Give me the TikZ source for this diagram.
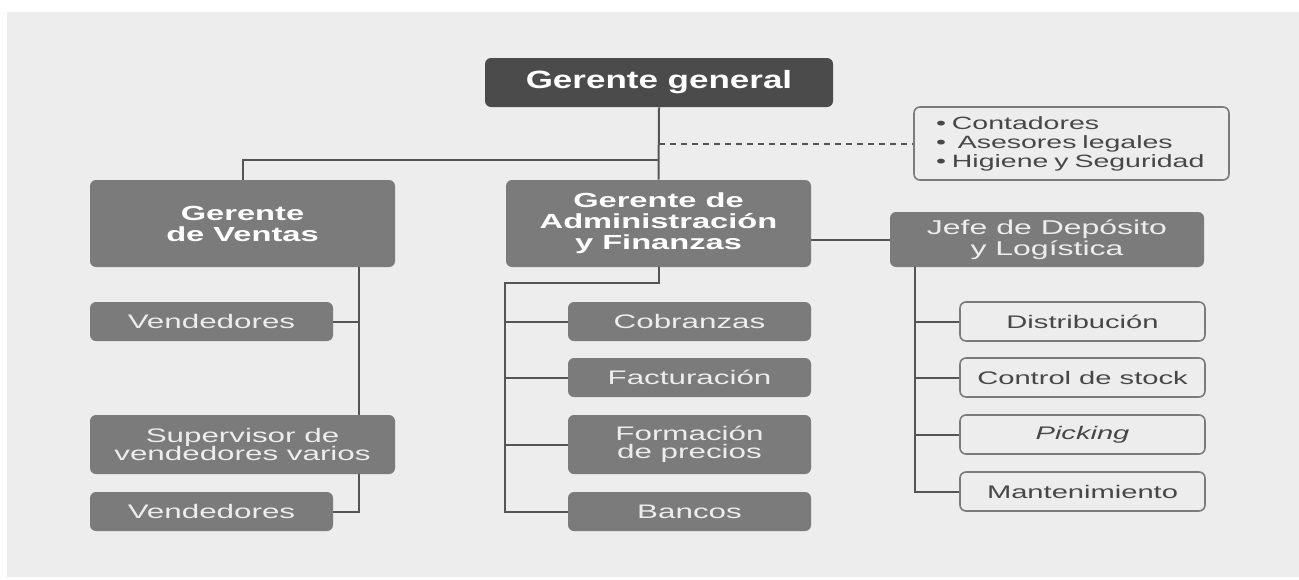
\documentclass[tikz,border=0pt]{standalone}
\usepackage{fontspec}
\setmainfont{Liberation Sans}[FakeStretch=1.6]
\newfontfamily\topfont{Liberation Sans}[FakeStretch=1.4]
\usetikzlibrary{calc}
\definecolor{panel}{HTML}{EDEDED}
\definecolor{boxdark}{HTML}{4B4B4B}
\definecolor{boxmid}{HTML}{7B7B7B}
\definecolor{linegray}{HTML}{555555}
\definecolor{textgray}{HTML}{474747}
\tikzset{
  topbox/.style={fill=boxdark, rounded corners=3pt, text=white, inner sep=0pt,
    font=\topfont\bfseries\fontsize{12.5}{13}\selectfont, minimum width=174pt, minimum height=24.5pt},
  headbox/.style={fill=boxmid, rounded corners=3pt, text=white, inner sep=0pt, align=center,
    font=\bfseries\fontsize{10.2}{10.5}\selectfont},
  subbox/.style={fill=boxmid, rounded corners=3pt, text=panel, inner sep=0pt, align=center,
    font=\fontsize{9.8}{9.3}\selectfont},
  linebox/.style={draw=boxmid, line width=0.8pt, fill=panel, rounded corners=3pt, text=textgray,
    inner sep=0pt, align=center, font=\fontsize{9.1}{9.5}\selectfont,
    minimum width=122.5pt, minimum height=19.5pt},
  link/.style={draw=linegray, line width=1pt},
}

\begin{document}
\begin{tikzpicture}[x=0.5pt, y=-0.5pt]
	%%%%% START %%%%%
	
	\useasboundingbox (0, 0) rectangle (1299, 579);
	\fill[white] (0, 0) rectangle (1299, 579);
	\fill[black!7] (7, 12) rectangle (10, 577);
	\fill[panel] (10, 12) rectangle (1299, 577);
	
	\node[topbox] (gg) at (659, 82.5) {Gerente general};
	
	\node[linebox, align=left, text width=135.5pt, inner xsep=11pt, minimum height=36.5pt,
	  font=\fontsize{8.9}{9.5}\selectfont] (notas) at (1071.5, 143.5)
	  {• Contadores\\•\ \ Asesores legales\\• Higiene y Seguridad};
	
	\node[headbox, minimum width=152.5pt, minimum height=43.5pt] (ventas) at (242.5, 223.5) {Gerente\\de Ventas};
	\node[headbox, minimum width=152.5pt, minimum height=43.5pt] (admin) at (658.5, 223.5) {Gerente de\\Administración\\y Finanzas};
	\node[subbox, minimum width=157pt, minimum height=27.5pt, font=\fontsize{10}{10.5}\selectfont] (jefe) at (1047, 239.5) {Jefe de Depósito\\y Logística};
	
	\node[subbox, minimum width=121.5pt, minimum height=19.5pt] (vend1) at (211.5, 321.5) {Vendedores};
	\node[subbox, minimum width=152.5pt, minimum height=29.5pt] (superv) at (242.5, 444.5) {Supervisor de\\vendedores varios};
	\node[subbox, minimum width=121.5pt, minimum height=19.5pt] (vend2) at (211.5, 511.5) {Vendedores};
	
	\node[subbox, minimum width=121.5pt, minimum height=19.5pt] (cobr) at (689.5, 321.5) {Cobranzas};
	\node[subbox, minimum width=121.5pt, minimum height=19.5pt] (fact) at (689.5, 377.5) {Facturación};
	\node[subbox, minimum width=121.5pt, minimum height=29.5pt] (form) at (689.5, 444.5) {Formación\\de precios};
	\node[subbox, minimum width=121.5pt, minimum height=19.5pt] (bancos) at (689.5, 511.5) {Bancos};
	
	\node[linebox] (dist) at (1082.5, 321.5) {Distribución};
	\node[linebox] (stock) at (1082.5, 377.5) {Control de stock};
	\node[linebox] (pick) at (1082.5, 434.5) {\itshape Picking};
	\node[linebox] (mant) at (1082.5, 491.5) {Mantenimiento};
	
	% top level
	\coordinate (hub) at (659, 160);
	\draw[link] (gg.south) -- (admin.north);
	\draw[link] (hub) -| (ventas.north);
	\draw[link, dash pattern=on 3pt off 2.5pt] (gg.south |- notas.west) -- (notas.west);
	
	% ventas
	\coordinate (vtop) at (359, 267);
	\draw[link] (vtop) -- (vtop |- superv.north);
	\draw[link] (vend1.east) -- (vend1.east -| vtop);
	\draw[link] (vtop |- superv.south) |- (vend2.east);
	
	% administracion
	\coordinate (abend) at (505, 283);
	\draw[link] (admin.south) |- (abend) |- (bancos.west);
	\foreach \n in {cobr, fact, form}
		\draw[link] (abend |- \n.west) -- (\n.west);
	
	% deposito
	\draw[link] (admin.east |- jefe.west) -- (jefe.west);
	\coordinate (jtop) at (915, 267);
	\draw[link] (jtop) |- (mant.west);
	\foreach \n in {dist, stock, pick}
		\draw[link] (jtop |- \n.west) -- (\n.west);
	
	%%%%% END %%%%%
\end{tikzpicture}
\end{document}
